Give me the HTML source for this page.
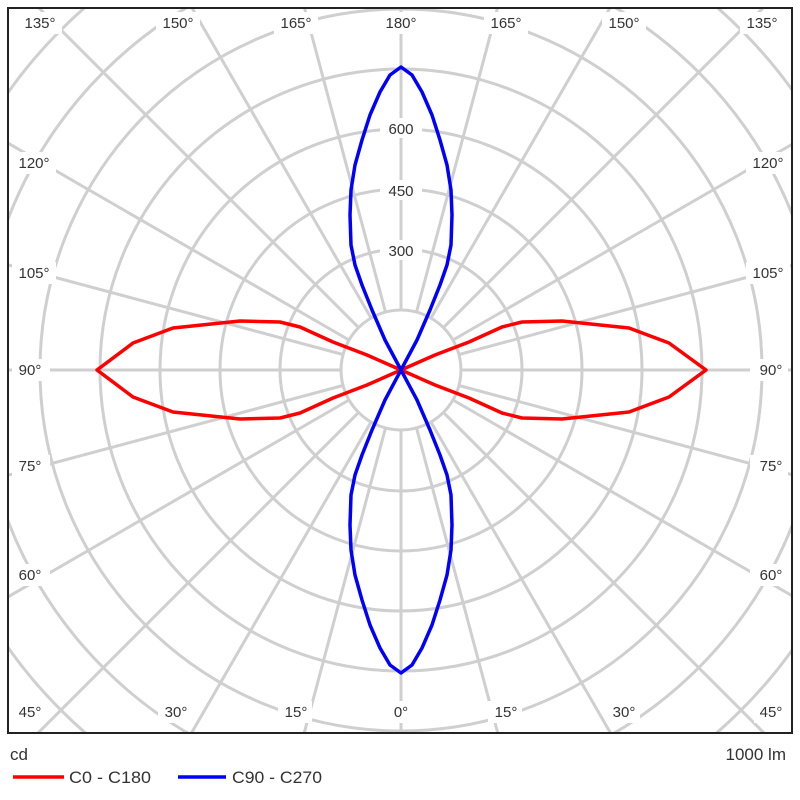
<!DOCTYPE html>
<html><head><style>
html,body{margin:0;background:#fff;width:800px;height:800px;overflow:hidden;}
svg{display:block;}
text{font-family:"Liberation Sans",Arial,sans-serif;font-size:15px;fill:#333;}
</style></head><body>
<svg width="800" height="800" viewBox="0 0 800 800" xmlns="http://www.w3.org/2000/svg">
<defs><clipPath id="c"><rect x="8" y="8" width="784" height="725"/></clipPath></defs>
<g clip-path="url(#c)" stroke="#cfcfcf" stroke-width="3" fill="none">
<circle cx="401" cy="370" r="60"/><circle cx="401" cy="370" r="121"/><circle cx="401" cy="370" r="181"/>
<circle cx="401" cy="370" r="241"/><circle cx="401" cy="370" r="301"/><circle cx="401" cy="370" r="361"/>
<circle cx="401" cy="370" r="421"/><circle cx="401" cy="370" r="481"/><circle cx="401" cy="370" r="541"/>
<g id="rays">
<line x1="401" y1="310" x2="401" y2="-400"/>
<line x1="416.5" y1="312" x2="607" y2="-403"/>
<line x1="431" y1="318" x2="801" y2="-323"/>
<line x1="443.4" y1="327.6" x2="967" y2="-196"/>
<line x1="453" y1="340" x2="1094" y2="-30"/>
<line x1="459" y1="354.5" x2="1174" y2="163"/>
<line x1="461" y1="370" x2="1200" y2="370"/>
<line x1="459" y1="385.5" x2="1174" y2="577"/>
<line x1="453" y1="400" x2="1094" y2="770"/>
<line x1="443.4" y1="412.4" x2="967" y2="936"/>
<line x1="431" y1="422" x2="801" y2="1063"/>
<line x1="416.5" y1="428" x2="607" y2="1143"/>
<line x1="401" y1="430" x2="401" y2="1170"/>
</g>
<use href="#rays" transform="translate(802,0) scale(-1,1)"/>
</g>
<g fill="#fff">
<rect x="18" y="12" width="44" height="22"/><rect x="156" y="12" width="44" height="22"/><rect x="274" y="12" width="44" height="22"/><rect x="379" y="12" width="44" height="22"/>
<rect x="484" y="12" width="44" height="22"/><rect x="602" y="12" width="44" height="22"/><rect x="740" y="12" width="44" height="22"/>
<rect x="12" y="152" width="44" height="22"/><rect x="12" y="262" width="44" height="22"/><rect x="12" y="359" width="38" height="22"/><rect x="12" y="455" width="38" height="22"/><rect x="12" y="564" width="38" height="22"/>
<rect x="746" y="152" width="44" height="22"/><rect x="746" y="262" width="44" height="22"/><rect x="750" y="359" width="38" height="22"/><rect x="750" y="455" width="38" height="22"/><rect x="750" y="564" width="38" height="22"/>
<rect x="12" y="701" width="34" height="22"/><rect x="158" y="701" width="34" height="22"/><rect x="278" y="701" width="34" height="22"/><rect x="387" y="701" width="28" height="22"/><rect x="488" y="701" width="34" height="22"/><rect x="606" y="701" width="34" height="22"/><rect x="754" y="701" width="34" height="22"/>
<rect x="380" y="118" width="42" height="20"/><rect x="380" y="180" width="42" height="20"/><rect x="380" y="240" width="42" height="20"/>
</g>
<g text-anchor="middle">
<text x="40" y="28">135°</text><text x="178" y="28">150°</text><text x="296" y="28">165°</text><text x="401" y="28">180°</text>
<text x="506" y="28">165°</text><text x="624" y="28">150°</text><text x="762" y="28">135°</text>
<text x="34" y="168">120°</text><text x="34" y="278">105°</text><text x="30" y="375">90°</text><text x="30" y="471">75°</text><text x="30" y="580">60°</text>
<text x="768" y="168">120°</text><text x="768" y="278">105°</text><text x="771" y="375">90°</text><text x="771" y="471">75°</text><text x="771" y="580">60°</text>
<text x="30" y="717">45°</text><text x="176" y="717">30°</text><text x="296" y="717">15°</text><text x="401" y="717">0°</text><text x="506" y="717">15°</text><text x="624" y="717">30°</text><text x="771" y="717">45°</text>
<text x="401" y="134">600</text><text x="401" y="196">450</text><text x="401" y="256">300</text>
</g>
<rect x="8" y="8" width="784" height="725" fill="none" stroke="#222" stroke-width="2"/>
<path fill="none" stroke="#f00" stroke-width="3.5" stroke-linejoin="round" d="M401,370 L367,355 L333,342 L300,327 L280,322 L240,321 L173,328 L133,343 L97,370 L133,397 L173,412 L240,419 L280,418 L300,413 L333,398 L367,385 L401,370 L435,355 L469,342 L502,327 L522,322 L562,321 L629,328 L669,343 L706,370 L669,397 L629,412 L562,419 L522,418 L502,413 L469,398 L435,385 Z"/>
<path fill="none" stroke="#00f" stroke-width="3.5" stroke-linejoin="round" d="M401,370 L385,340 L372,310 L362,285 L355,265 L351,245 L350,215 L351,190 L355,165 L362,140 L370,115 L380,92 L390,75 L401,67 L412,75 L422,92 L432,115 L440,140 L447,165 L451,190 L452,215 L451,245 L447,265 L440,285 L430,310 L417,340 L401,370 L385,400 L372,430 L362,455 L355,475 L351,495 L350,525 L351,550 L355,575 L362,600 L370,625 L380,648 L390,665 L401,673 L412,665 L422,648 L432,625 L440,600 L447,575 L451,550 L452,525 L451,495 L447,475 L440,455 L430,430 L417,400 Z"/>
<text x="10" y="760" style="font-size:17px">cd</text>
<text x="786" y="760" text-anchor="end" style="font-size:17px">1000 lm</text>
<line x1="13" y1="777" x2="64" y2="777" stroke="#f00" stroke-width="3.5"/>
<text x="69" y="783" style="font-size:17px" textLength="82" lengthAdjust="spacingAndGlyphs">C0 - C180</text>
<line x1="178" y1="777" x2="226" y2="777" stroke="#00f" stroke-width="3.5"/>
<text x="232" y="783" style="font-size:17px" textLength="90" lengthAdjust="spacingAndGlyphs">C90 - C270</text>
</svg>
</body></html>
